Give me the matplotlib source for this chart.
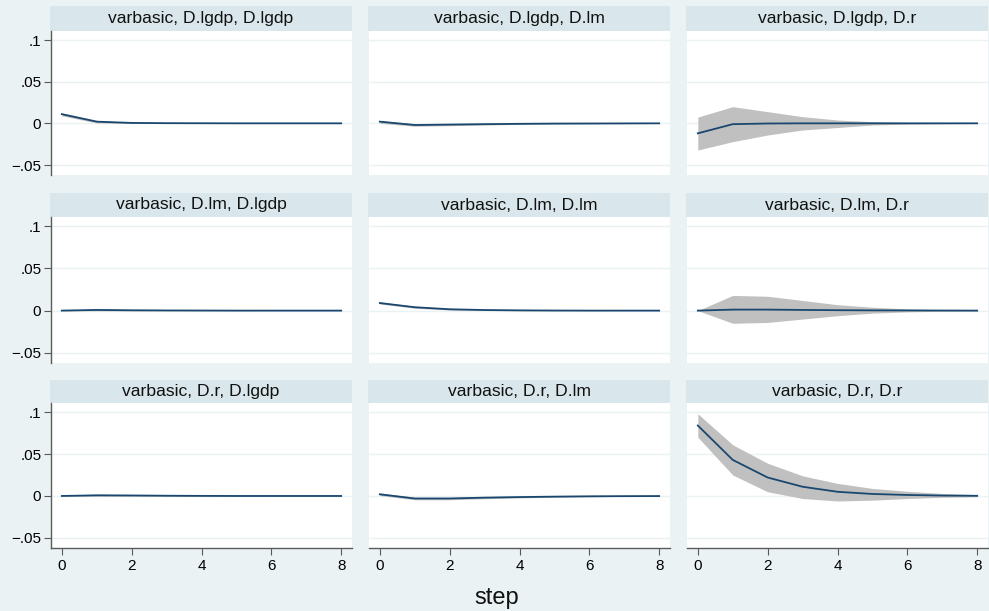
import matplotlib
matplotlib.use("Agg")
import matplotlib.pyplot as plt
import numpy as np

plt.rcParams['font.family'] = ['Liberation Sans', 'DejaVu Sans']

steps = [0, 1, 2, 3, 4, 5, 6, 7, 8]
impulses = ["D.lgdp", "D.lm", "D.r"]
responses = ["D.lgdp", "D.lm", "D.r"]
y_ticks = [-0.05, 0, 0.05, 0.1]
y_tick_labels = ["\u2212.05", "0", ".05", ".1"]
x_ticks = [0, 2, 4, 6, 8]
x_label = "step"

# irf, lower, upper per (impulse, response)
irf_lgdp_lgdp = [0.011, 0.002, 0.0005, 0.0002, 0.0001, 0.0, 0.0, 0.0, 0.0]
lo_lgdp_lgdp = [0.009, 0.0005, -0.0002, -0.0002, -0.0001, 0.0, 0.0, 0.0, 0.0]
hi_lgdp_lgdp = [0.0125, 0.0035, 0.0012, 0.0006, 0.0003, 0.0001, 0.0, 0.0, 0.0]

irf_lgdp_lm = [0.002, -0.002, -0.0015, -0.001, -0.0006, -0.0003, -0.0002, -0.0001, 0.0]
lo_lgdp_lm = [0.0, -0.0035, -0.0028, -0.002, -0.0013, -0.0008, -0.0005, -0.0003, -0.0002]
hi_lgdp_lm = [0.0035, -0.0005, -0.0002, 0.0, 0.0001, 0.0002, 0.0001, 0.0001, 0.0001]

irf_lgdp_r = [-0.012, -0.001, -0.0002, 0.0, 0.0, 0.0, 0.0, 0.0, 0.0]
lo_lgdp_r = [-0.032, -0.022, -0.014, -0.008, -0.005, -0.002, -0.001, -0.0005, -0.0002]
hi_lgdp_r = [0.0075, 0.02, 0.014, 0.008, 0.004, 0.002, 0.001, 0.0005, 0.0002]

irf_lm_lgdp = [0.0, 0.0008, 0.0004, 0.0002, 0.0001, 0.0, 0.0, 0.0, 0.0]
lo_lm_lgdp = [0.0, -0.0003, -0.0003, -0.0002, -0.0001, 0.0, 0.0, 0.0, 0.0]
hi_lm_lgdp = [0.0, 0.002, 0.0012, 0.0006, 0.0003, 0.0001, 0.0, 0.0, 0.0]

irf_lm_lm = [0.009, 0.004, 0.0016, 0.0007, 0.0003, 0.0001, 0.0, 0.0, 0.0]
lo_lm_lm = [0.0078, 0.0028, 0.0007, 0.0001, -0.0001, -0.0001, 0.0, 0.0, 0.0]
hi_lm_lm = [0.0102, 0.0052, 0.0025, 0.0013, 0.0007, 0.0003, 0.0001, 0.0, 0.0]

irf_lm_r = [0.0, 0.0012, 0.0012, 0.0008, 0.0005, 0.0003, 0.0002, 0.0001, 0.0]
lo_lm_r = [0.0, -0.015, -0.014, -0.01, -0.006, -0.003, -0.0015, -0.0007, -0.0003]
hi_lm_r = [0.0, 0.018, 0.017, 0.012, 0.007, 0.004, 0.002, 0.001, 0.0004]

irf_r_lgdp = [0.0, 0.0008, 0.0006, 0.0003, 0.0001, 0.0, 0.0, 0.0, 0.0]
lo_r_lgdp = [0.0, -0.0004, -0.0003, -0.0002, -0.0001, 0.0, 0.0, 0.0, 0.0]
hi_r_lgdp = [0.0, 0.002, 0.0015, 0.0008, 0.0004, 0.0002, 0.0001, 0.0, 0.0]

irf_r_lm = [0.002, -0.003, -0.003, -0.002, -0.0013, -0.0008, -0.0004, -0.0002, -0.0001]
lo_r_lm = [0.0005, -0.0045, -0.0045, -0.0033, -0.0023, -0.0015, -0.0009, -0.0005, -0.0003]
hi_r_lm = [0.0035, -0.0015, -0.0015, -0.0007, -0.0003, -0.0001, 0.0, 0.0001, 0.0001]

irf_r_r = [0.084, 0.043, 0.022, 0.011, 0.005, 0.0024, 0.0012, 0.0005, 0.0002]
lo_r_r = [0.070, 0.025, 0.005, -0.003, -0.006, -0.005, -0.003, -0.0016, -0.001]
hi_r_r = [0.098, 0.061, 0.039, 0.024, 0.015, 0.009, 0.0056, 0.003, 0.0016]

panels = {
    ("D.lgdp", "D.lgdp"): (irf_lgdp_lgdp, lo_lgdp_lgdp, hi_lgdp_lgdp),
    ("D.lgdp", "D.lm"): (irf_lgdp_lm, lo_lgdp_lm, hi_lgdp_lm),
    ("D.lgdp", "D.r"): (irf_lgdp_r, lo_lgdp_r, hi_lgdp_r),
    ("D.lm", "D.lgdp"): (irf_lm_lgdp, lo_lm_lgdp, hi_lm_lgdp),
    ("D.lm", "D.lm"): (irf_lm_lm, lo_lm_lm, hi_lm_lm),
    ("D.lm", "D.r"): (irf_lm_r, lo_lm_r, hi_lm_r),
    ("D.r", "D.lgdp"): (irf_r_lgdp, lo_r_lgdp, hi_r_lgdp),
    ("D.r", "D.lm"): (irf_r_lm, lo_r_lm, hi_r_lm),
    ("D.r", "D.r"): (irf_r_r, lo_r_r, hi_r_r),
}

W, H = 989, 611
BG = "#EAF2F3"
STRIP = "#D9E6EB"
LINE = "#1A476F"
BAND = "#C0C0C0"
AXC = "#5A5A5A"

fig = plt.figure(figsize=(W / 100, H / 100), dpi=100, facecolor=BG)

col_x = [(51, 352), (369, 670), (687, 988)]
row_plot = [(31, 175), (217, 363), (403, 548)]
row_strip = [(6, 31), (193, 217), (380, 403)]

def rect(x0, x1, y0, y1):
    return [x0 / W, 1 - y1 / H, (x1 - x0) / W, (y1 - y0) / H]

for i, imp in enumerate(impulses):
    for j, resp in enumerate(responses):
        x0, x1 = col_x[j]
        py0, py1 = row_plot[i]
        sy0, sy1 = row_strip[i]
        # strip
        sax = fig.add_axes(rect(x0 - 1, x1, sy0, sy1))
        sax.set_facecolor(STRIP)
        sax.set_xticks([]); sax.set_yticks([])
        for s in sax.spines.values():
            s.set_visible(False)
        sax.text(0.5, 0.5, f"varbasic, {imp}, {resp}", ha="center", va="center",
                 fontsize=12.6, color="#111111", transform=sax.transAxes)
        # plot
        ax = fig.add_axes(rect(x0, x1, py0, py1))
        ax.set_facecolor("white")
        irf, lo, hi = panels[(imp, resp)]
        ax.fill_between(steps, lo, hi, color=BAND, lw=0, zorder=2)
        ax.plot(steps, irf, color=LINE, lw=1.3, zorder=3)
        ax.set_xlim(-0.31, 8.31)
        ax.set_ylim(-0.062, 0.1108)
        ax.set_yticks(y_ticks)
        ax.set_xticks(x_ticks)
        ax.grid(axis="y", color=BG, lw=1.0, zorder=1)
        ax.set_axisbelow(True)
        for s in ["top", "right"]:
            ax.spines[s].set_visible(False)
        if j == 0:
            ax.spines["left"].set_color(AXC)
            ax.spines["left"].set_linewidth(1.0)
            ax.set_yticklabels(y_tick_labels)
            ax.tick_params(axis="y", length=5, color=AXC, labelsize=11, pad=2)
        else:
            ax.spines["left"].set_visible(False)
            ax.tick_params(axis="y", length=0, labelleft=False)
        if i == 2:
            ax.spines["bottom"].set_color(AXC)
            ax.spines["bottom"].set_linewidth(1.0)
            ax.tick_params(axis="x", length=5, color=AXC, labelsize=11, pad=3)
        else:
            ax.spines["bottom"].set_visible(False)
            ax.tick_params(axis="x", length=0, labelbottom=False)

fig.text(497 / W, 1 - 598 / H, x_label, ha="center", va="center", fontsize=17, color="#111111")

fig.savefig("out.png", dpi=100, facecolor=BG)
